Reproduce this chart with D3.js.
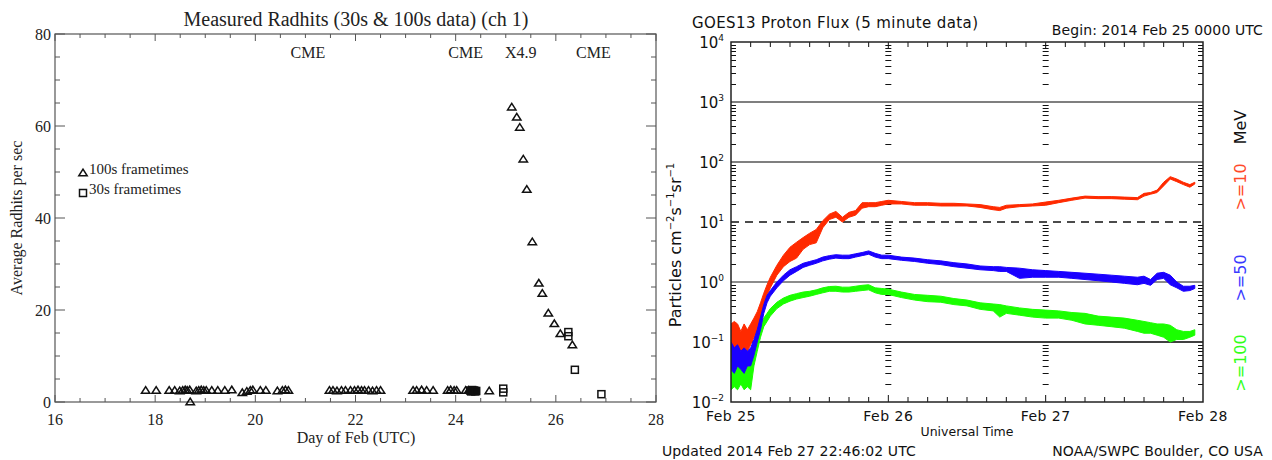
<!DOCTYPE html>
<html>

<head>
    <script src="https://d3js.org/d3.v7.min.js"></script>
    <style>
        body { margin: 0; background: #fff; }
        .serif text, text.serif { font-family: "Liberation Serif", "DejaVu Serif", serif; fill: #222; }
        .sans text, text.sans { font-family: "DejaVu Sans", sans-serif; fill: #111; }
    </style>
</head>

<body>
    <script>
        // ---- left chart data: Measured Radhits ----
        var triDay = [17.81, 18.02, 18.28, 18.39, 18.49, 18.55, 18.60, 18.64, 18.69, 18.70, 18.82, 18.87, 18.92, 18.97, 19.02,
            19.13, 19.25, 19.39, 19.53, 19.74, 19.83, 19.90, 19.95, 20.10, 20.21, 20.44, 20.54, 20.60, 20.66,
            21.48, 21.55, 21.63, 21.72, 21.80, 21.90, 21.98, 22.05, 22.12, 22.18, 22.26, 22.34, 22.42, 22.50,
            23.15, 23.22, 23.32, 23.42, 23.55, 23.84, 23.90, 23.97, 24.02, 24.20, 24.26, 24.67,
            25.12, 25.22, 25.28, 25.35, 25.42, 25.53, 25.66, 25.73, 25.85, 25.97, 26.09, 26.33];
        var triVal = [2.5, 2.5, 2.5, 2.5, 2.4, 2.5, 2.6, 2.5, 2.6, 0.0, 2.4, 2.5, 2.6, 2.5, 2.5,
            2.5, 2.5, 2.5, 2.6, 2.0, 2.3, 2.5, 2.6, 2.5, 2.5, 2.4, 2.5, 2.6, 2.5,
            2.5, 2.5, 2.4, 2.5, 2.5, 2.5, 2.5, 2.6, 2.5, 2.5, 2.5, 2.4, 2.5, 2.5,
            2.5, 2.5, 2.6, 2.5, 2.5, 2.5, 2.6, 2.5, 2.5, 2.5, 2.5, 2.4,
            64.1, 61.9, 59.7, 52.8, 46.2, 34.8, 25.8, 23.6, 19.3, 17.0, 14.85, 12.4];
        var sqDay = [24.29, 24.31, 24.33, 24.35, 24.37, 24.39, 24.41, 24.95, 24.95, 26.25, 26.25, 26.38, 26.91];
        var sqVal = [2.5, 2.3, 2.6, 2.4, 2.5, 2.3, 2.4, 2.9, 2.1, 15.2, 14.3, 7.0, 1.7];
        var events = ["CME", "CME", "X4.9", "CME"];
        var eventDay = [21.05, 24.2, 25.3, 26.75];

        // ---- right chart data: GOES13 proton flux, hours after Feb 25 0000 UTC ----
        var fluxHours = [0, 0.5, 1, 1.5, 2, 2.5, 3, 3.5, 4, 4.5, 5, 5.5, 6, 7, 8, 9, 10, 11, 12, 13, 14, 15, 16, 17, 18, 19, 20,
            21, 22, 23, 24, 26, 28, 30, 32, 34, 36, 38, 40, 41, 42, 44, 46, 48, 50, 52, 54, 56, 58, 60, 62, 63, 64,
            65, 66, 67, 68, 69, 70, 70.75];
        var p10Lo = [0.08, 0.07, 0.08, 0.07, 0.08, 0.07, 0.09, 0.12, 0.15, 0.25, 0.4, 0.6, 0.8, 1.3, 1.8, 2.2, 2.5, 3.5, 4.2, 4.5,
            8, 11, 12, 10, 12, 13, 17, 18, 18, 19, 20, 20, 19, 19, 18.5, 18.5, 18.5, 17.5, 16, 15.5, 17, 18, 18.5, 19,
            21, 23, 25, 24.5, 24.5, 24, 23.5, 27, 29, 31, 40, 52, 47, 42, 38, 43];
        var p10Hi = [0.2, 0.22, 0.2, 0.15, 0.2, 0.16, 0.2, 0.25, 0.32, 0.45, 0.65, 0.9, 1.2, 1.9, 2.8, 3.8, 4.6, 5.5, 6.5, 7.5,
            10.5, 13.5, 15, 12, 14.5, 15.5, 21, 21, 21, 22, 23, 22, 21, 21, 20.5, 20.5, 20, 19.5, 18, 17.5, 19, 19.5, 20, 21.5,
            23, 25, 27, 26.5, 26.5, 26, 25.5, 30, 31, 34, 46, 57, 52, 46, 42, 46];
        var p50Lo = [0.035, 0.03, 0.04, 0.035, 0.03, 0.04, 0.04, 0.06, 0.1, 0.16, 0.3, 0.45, 0.58, 0.8, 1.05, 1.3, 1.5, 1.75, 1.9, 2.05,
            2.25, 2.4, 2.5, 2.45, 2.45, 2.6, 2.75, 2.9, 2.6, 2.45, 2.45, 2.3, 2.2, 2.05, 1.95, 1.8, 1.7, 1.6, 1.55, 1.5, 1.5, 1.15,
            1.2, 1.2, 1.2, 1.15, 1.1, 1.05, 1.0, 0.95, 0.9, 0.95, 0.88, 1.1, 1.15, 0.9, 0.8, 0.7, 0.72, 0.78];
        var p50Hi = [0.1, 0.08, 0.09, 0.07, 0.08, 0.07, 0.08, 0.11, 0.16, 0.26, 0.42, 0.6, 0.72, 1.0, 1.3, 1.6, 1.8, 2.05, 2.2, 2.35,
            2.6, 2.75, 2.85, 2.8, 2.8, 2.95, 3.1, 3.3, 3.0, 2.8, 2.8, 2.6, 2.5, 2.35, 2.25, 2.1, 2.0, 1.85, 1.8, 1.8, 1.75, 1.7,
            1.6, 1.55, 1.5, 1.45, 1.4, 1.35, 1.3, 1.25, 1.2, 1.25, 1.1, 1.4, 1.45, 1.3, 1.0, 0.85, 0.85, 0.88];
        var p100Lo = [0.016, 0.018, 0.016, 0.02, 0.016, 0.018, 0.016, 0.04, 0.07, 0.12, 0.18, 0.22, 0.27, 0.36, 0.43, 0.48, 0.52, 0.55,
            0.58, 0.62, 0.66, 0.7, 0.7, 0.68, 0.68, 0.7, 0.72, 0.74, 0.66, 0.62, 0.62, 0.55, 0.5, 0.47, 0.46, 0.42, 0.4, 0.35,
            0.33, 0.26, 0.3, 0.28, 0.26, 0.25, 0.25, 0.23, 0.2, 0.19, 0.18, 0.17, 0.15, 0.14, 0.14, 0.13, 0.12, 0.1, 0.11, 0.11,
            0.12, 0.13];
        var p100Hi = [0.05, 0.06, 0.05, 0.055, 0.05, 0.045, 0.06, 0.08, 0.12, 0.18, 0.25, 0.3, 0.36, 0.46, 0.54, 0.6, 0.64, 0.68,
            0.7, 0.74, 0.8, 0.84, 0.85, 0.82, 0.82, 0.85, 0.88, 0.9, 0.8, 0.78, 0.76, 0.68, 0.62, 0.6, 0.58, 0.53, 0.5, 0.45,
            0.43, 0.42, 0.4, 0.37, 0.35, 0.34, 0.33, 0.31, 0.3, 0.27, 0.26, 0.25, 0.23, 0.22, 0.21, 0.2, 0.2, 0.19, 0.16, 0.15,
            0.15, 0.16];
        var dayLabels = ["Feb 25", "Feb 26", "Feb 27", "Feb 28"];
        var decades = [-2, -1, 0, 1, 2, 3, 4];

        var svg = d3.select("body").append("svg")
            .attr("width", 1272)
            .attr("height", 460);

        // ================= left chart =================
        var L = svg.append("g").attr("class", "serif");
        var x = d3.scaleLinear().domain([16, 28]).range([55, 656]);
        var y = d3.scaleLinear().domain([0, 80]).range([402, 34]);
        var axisColor = "#555";

        L.append("rect").attr("x", 55).attr("y", 34).attr("width", 601).attr("height", 368)
            .attr("fill", "none").attr("stroke", axisColor).attr("stroke-width", 1.2);

        var xMinor = d3.range(16, 28.01, 0.5);
        L.selectAll(".xt").data(xMinor).enter().append("path")
            .attr("stroke", axisColor)
            .attr("d", function (d) {
                var len = (d % 2 === 0) ? 7 : 4;
                return "M" + x(d) + ",402v-" + len + "M" + x(d) + ",34v" + len;
            });
        var yMinor = d3.range(0, 80.01, 5);
        L.selectAll(".yt").data(yMinor).enter().append("path")
            .attr("stroke", axisColor)
            .attr("d", function (d) {
                var len = (d % 20 === 0) ? 10 : 5;
                return "M55," + y(d) + "h" + len + "M656," + y(d) + "h-" + len;
            });

        L.selectAll(".xl").data(d3.range(16, 28.01, 2)).enter().append("text")
            .attr("x", function (d) { return x(d); }).attr("y", 425)
            .attr("text-anchor", "middle").attr("font-size", 16)
            .text(function (d) { return d; });
        L.selectAll(".yl").data(d3.range(0, 80.01, 20)).enter().append("text")
            .attr("x", 51).attr("y", function (d) { return y(d) + 6; })
            .attr("text-anchor", "end").attr("font-size", 16)
            .text(function (d) { return d; });

        L.append("text").attr("x", 356).attr("y", 26).attr("text-anchor", "middle")
            .attr("font-size", 20).text("Measured Radhits (30s & 100s data) (ch 1)");
        L.append("text").attr("x", 356).attr("y", 443).attr("text-anchor", "middle")
            .attr("font-size", 16).text("Day of Feb (UTC)");
        L.append("text").attr("transform", "translate(22,218) rotate(-90)").attr("text-anchor", "middle")
            .attr("font-size", 16).text("Average Radhits per sec");

        L.selectAll(".ev").data(events).enter().append("text")
            .attr("x", function (d, i) { return x(eventDay[i]); }).attr("y", 58)
            .attr("text-anchor", "middle").attr("font-size", 16)
            .text(function (d) { return d; });

        var tri = "M0,-3.8L4.2,2.8L-4.2,2.8Z";
        L.selectAll(".tri").data(triDay).enter().append("path")
            .attr("d", tri).attr("fill", "none").attr("stroke", "#111").attr("stroke-width", 1.5)
            .attr("transform", function (d, i) { return "translate(" + x(d) + "," + y(triVal[i]) + ")"; });
        L.selectAll(".sq").data(sqDay).enter().append("rect")
            .attr("x", function (d) { return x(d) - 3.5; })
            .attr("y", function (d, i) { return y(sqVal[i]) - 3.5; })
            .attr("width", 7).attr("height", 7)
            .attr("fill", "none").attr("stroke", "#111").attr("stroke-width", 1.5);

        // legend
        L.append("path").attr("d", tri).attr("transform", "translate(83,173)")
            .attr("fill", "none").attr("stroke", "#111").attr("stroke-width", 1.5);
        L.append("rect").attr("x", 79.5).attr("y", 189.5).attr("width", 7).attr("height", 7)
            .attr("fill", "none").attr("stroke", "#111").attr("stroke-width", 1.5);
        L.append("text").attr("x", 89).attr("y", 174).attr("font-size", 15).text("100s frametimes");
        L.append("text").attr("x", 89).attr("y", 194).attr("font-size", 15).text("30s frametimes");

        // ================= right chart =================
        var R = svg.append("g").attr("class", "sans");
        var hx = d3.scaleLinear().domain([0, 72]).range([731, 1203]);
        var fy = d3.scaleLog().domain([0.01, 10000]).range([402, 42]);

        R.append("defs").append("clipPath").attr("id", "plotclip")
            .append("rect").attr("x", 731).attr("y", 42).attr("width", 472).attr("height", 360);

        // horizontal grid lines
        var grid = [
            { v: 1000, c: "#555", dash: null },
            { v: 100, c: "#555", dash: null },
            { v: 10, c: "#111", dash: "8,6" },
            { v: 1, c: "#666", dash: null },
            { v: 0.1, c: "#000", dash: null }
        ];
        R.selectAll(".grid").data(grid).enter().append("line")
            .attr("x1", 731).attr("x2", 1203)
            .attr("y1", function (d) { return fy(d.v); }).attr("y2", function (d) { return fy(d.v); })
            .attr("stroke", function (d) { return d.c; }).attr("stroke-width", 1.3)
            .attr("stroke-dasharray", function (d) { return d.dash; });

        // minor log ticks on both axes and on the day boundaries
        var minorVals = [];
        decades.slice(0, 6).forEach(function (e) {
            for (var m = 2; m <= 9; m++) minorVals.push(m * Math.pow(10, e));
        });
        R.selectAll(".lt").data(minorVals).enter().append("path")
            .attr("stroke", "#111").attr("stroke-width", 1)
            .attr("d", function (d) {
                var yy = Math.round(fy(d)) + 0.5;
                return "M731," + yy + "h5M1203," + yy + "h-5" +
                    "M" + (hx(24) - 3) + "," + yy + "h6M" + (hx(48) - 3) + "," + yy + "h6";
            });

        // time ticks every 3 hours
        R.selectAll(".tt").data(d3.range(3, 72, 3)).enter().append("path")
            .attr("stroke", "#111").attr("stroke-width", 1)
            .attr("d", function (d) {
                var len = (d % 24 === 0) ? 7 : 5;
                return "M" + hx(d) + ",402v-" + len + "M" + hx(d) + ",42v" + len;
            });

        var area = function (lo, hi) {
            return d3.area()
                .x(function (d, i) { return hx(fluxHours[i]); })
                .y0(function (d, i) { return fy(lo[i]); })
                .y1(function (d, i) { return fy(hi[i]); })(fluxHours);
        };
        var series = [
            { lo: p10Lo, hi: p10Hi, c: "#ff2a00" },
            { lo: p100Lo, hi: p100Hi, c: "#1aff00" },
            { lo: p50Lo, hi: p50Hi, c: "#1a00ff" }
        ];
        R.append("g").attr("clip-path", "url(#plotclip)")
            .selectAll("path").data(series).enter().append("path")
            .attr("d", function (d) { return area(d.lo, d.hi); })
            .attr("fill", function (d) { return d.c; })
            .attr("stroke", function (d) { return d.c; })
            .attr("stroke-width", 1).attr("stroke-linejoin", "round");

        R.append("rect").attr("x", 731).attr("y", 42).attr("width", 472).attr("height", 360)
            .attr("fill", "none").attr("stroke", "#222").attr("stroke-width", 1.5);

        // y tick labels 10^n
        var yl = R.selectAll(".ylab").data(decades).enter().append("text")
            .attr("x", 724).attr("y", function (d) { return fy(Math.pow(10, d)) + 6; })
            .attr("text-anchor", "end").attr("font-size", 15);
        yl.append("tspan").text("10");
        yl.append("tspan").attr("dy", -7).attr("font-size", 9)
            .text(function (d) { return d < 0 ? "\u2212" + (-d) : d; });

        R.selectAll(".xlab").data(dayLabels).enter().append("text")
            .attr("x", function (d, i) { return hx(i * 24); }).attr("y", 421)
            .attr("text-anchor", "middle").attr("font-size", 14).attr("letter-spacing", 0.5)
            .text(function (d) { return d; });

        R.append("text").attr("x", 692).attr("y", 28).attr("font-size", 15).attr("letter-spacing", 0.4)
            .text("GOES13 Proton Flux (5 minute data)");
        R.append("text").attr("x", 1263).attr("y", 35).attr("text-anchor", "end").attr("font-size", 14)
            .attr("letter-spacing", 0.1).text("Begin: 2014 Feb 25 0000 UTC");
        R.append("text").attr("x", 967).attr("y", 436).attr("text-anchor", "middle").attr("font-size", 12.5)
            .text("Universal Time");
        R.append("text").attr("x", 662).attr("y", 456).attr("font-size", 14).attr("letter-spacing", 0.1)
            .text("Updated 2014 Feb 27 22:46:02 UTC");
        R.append("text").attr("x", 1263).attr("y", 456).attr("text-anchor", "end").attr("font-size", 14)
            .attr("letter-spacing", 0.1).text("NOAA/SWPC Boulder, CO USA");

        var yt = R.append("text").attr("transform", "translate(681,245) rotate(-90)")
            .attr("text-anchor", "middle").attr("font-size", 16);
        yt.append("tspan").text("Particles cm");
        yt.append("tspan").attr("dy", -7).attr("font-size", 10).text("\u22122");
        yt.append("tspan").attr("dy", 7).text("s");
        yt.append("tspan").attr("dy", -7).attr("font-size", 10).text("\u22121");
        yt.append("tspan").attr("dy", 7).text("sr");
        yt.append("tspan").attr("dy", -7).attr("font-size", 10).text("\u22121");

        var side = [
            { t: "MeV", y: 127, c: "#111" },
            { t: ">=10", y: 187, c: "#ff4a2a" },
            { t: ">=50", y: 278, c: "#3a3aff" },
            { t: ">=100", y: 363, c: "#33ff1a" }
        ];
        R.selectAll(".side").data(side).enter().append("text")
            .attr("transform", function (d) { return "translate(1246," + d.y + ") rotate(-90)"; })
            .attr("text-anchor", "middle").attr("font-size", 16)
            .style("fill", function (d) { return d.c; })
            .text(function (d) { return d.t; });
    </script>
</body>

</html>
